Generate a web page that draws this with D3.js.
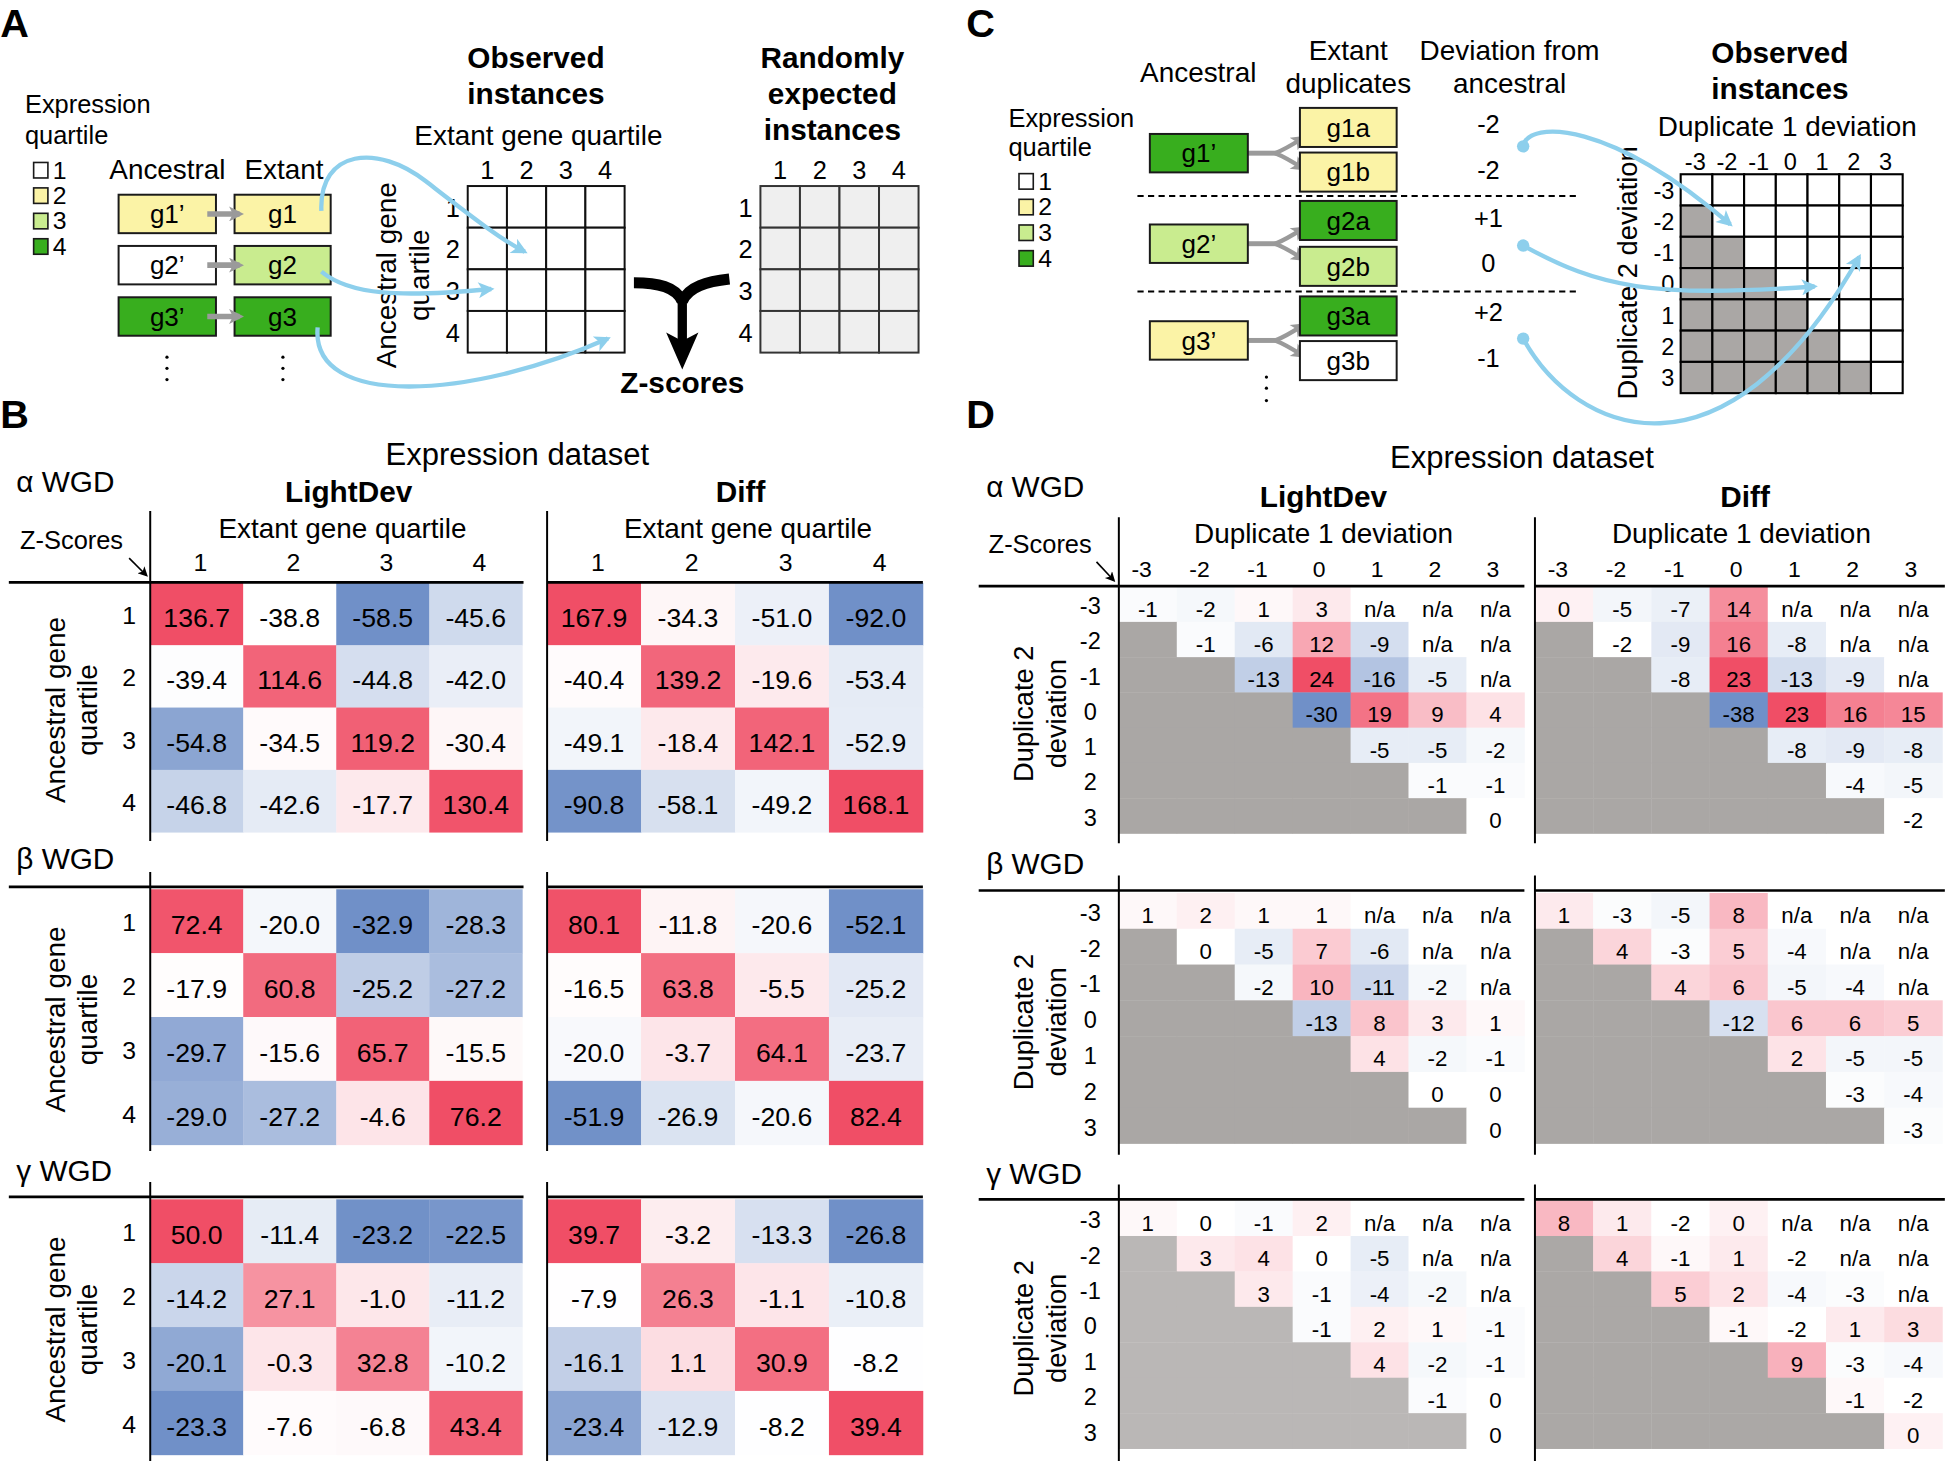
<!DOCTYPE html>
<html><head><meta charset="utf-8">
<script src="https://cdn.jsdelivr.net/npm/d3@7"></script>
<style>
html,body{margin:0;padding:0;background:#fff;}
svg{display:block;}
text{font-family:"Liberation Sans",Arial,Helvetica,sans-serif;fill:#000;}
</style></head><body>
<svg id="fig" width="1945" height="1461" viewBox="0 0 1568 1178"></svg>
<script>
// ================= DATA =================
const quartiles = [1, 2, 3, 4];
const deviations = [-3, -2, -1, 0, 1, 2, 3];
const wgdLabels = ["α WGD", "β WGD", "γ WGD"];
const datasetLabels = ["LightDev", "Diff"];

// Panel A
const ancestralGenesA = ["g1’", "g2’", "g3’"];
const extantGenesA = ["g1", "g2", "g3"];
const ancestralQuartileA = [2, 1, 4];
const extantQuartileA = [2, 3, 4];

// Panel C
const ancestralGenesC = ["g1’", "g2’", "g3’"];
const ancestralQuartileC = [4, 3, 2];
const duplicateGenesC = ["g1a", "g1b", "g2a", "g2b", "g3a", "g3b"];
const duplicateQuartileC = [2, 2, 4, 3, 4, 1];
const deviationLabelsC = ["-2", "-2", "+1", "0", "+2", "-1"];

// Panel B: Z-scores (rows = ancestral quartile 1..4, cols = extant quartile 1..4)
const zAlphaLightDev = [[136.7, -38.8, -58.5, -45.6], [-39.4, 114.6, -44.8, -42.0], [-54.8, -34.5, 119.2, -30.4], [-46.8, -42.6, -17.7, 130.4]];
const zAlphaDiff = [[167.9, -34.3, -51.0, -92.0], [-40.4, 139.2, -19.6, -53.4], [-49.1, -18.4, 142.1, -52.9], [-90.8, -58.1, -49.2, 168.1]];
const zBetaLightDev = [[72.4, -20.0, -32.9, -28.3], [-17.9, 60.8, -25.2, -27.2], [-29.7, -15.6, 65.7, -15.5], [-29.0, -27.2, -4.6, 76.2]];
const zBetaDiff = [[80.1, -11.8, -20.6, -52.1], [-16.5, 63.8, -5.5, -25.2], [-20.0, -3.7, 64.1, -23.7], [-51.9, -26.9, -20.6, 82.4]];
const zGammaLightDev = [[50.0, -11.4, -23.2, -22.5], [-14.2, 27.1, -1.0, -11.2], [-20.1, -0.3, 32.8, -10.2], [-23.3, -7.6, -6.8, 43.4]];
const zGammaDiff = [[39.7, -3.2, -13.3, -26.8], [-7.9, 26.3, -1.1, -10.8], [-16.1, 1.1, 30.9, -8.2], [-23.4, -12.9, -8.2, 39.4]];

// Panel D: rows = duplicate 2 deviation -3..3, cols = duplicate 1 deviation -3..3 (G = not possible, NA = n/a)
const G = null, NA = "n/a";
const dAlphaLightDev = [
  [-1, -2, 1, 3, NA, NA, NA],
  [G, -1, -6, 12, -9, NA, NA],
  [G, G, -13, 24, -16, -5, NA],
  [G, G, G, -30, 19, 9, 4],
  [G, G, G, G, -5, -5, -2],
  [G, G, G, G, G, -1, -1],
  [G, G, G, G, G, G, 0]];
const dAlphaDiff = [
  [0, -5, -7, 14, NA, NA, NA],
  [G, -2, -9, 16, -8, NA, NA],
  [G, G, -8, 23, -13, -9, NA],
  [G, G, G, -38, 23, 16, 15],
  [G, G, G, G, -8, -9, -8],
  [G, G, G, G, G, -4, -5],
  [G, G, G, G, G, G, -2]];
const dBetaLightDev = [
  [1, 2, 1, 1, NA, NA, NA],
  [G, 0, -5, 7, -6, NA, NA],
  [G, G, -2, 10, -11, -2, NA],
  [G, G, G, -13, 8, 3, 1],
  [G, G, G, G, 4, -2, -1],
  [G, G, G, G, G, 0, 0],
  [G, G, G, G, G, G, 0]];
const dBetaDiff = [
  [1, -3, -5, 8, NA, NA, NA],
  [G, 4, -3, 5, -4, NA, NA],
  [G, G, 4, 6, -5, -4, NA],
  [G, G, G, -12, 6, 6, 5],
  [G, G, G, G, 2, -5, -5],
  [G, G, G, G, G, -3, -4],
  [G, G, G, G, G, G, -3]];
const dGammaLightDev = [
  [1, 0, -1, 2, NA, NA, NA],
  [G, 3, 4, 0, -5, NA, NA],
  [G, G, 3, -1, -4, -2, NA],
  [G, G, G, -1, 2, 1, -1],
  [G, G, G, G, 4, -2, -1],
  [G, G, G, G, G, -1, 0],
  [G, G, G, G, G, G, 0]];
const dGammaDiff = [
  [8, 1, -2, 0, NA, NA, NA],
  [G, 4, -1, 1, -2, NA, NA],
  [G, G, 5, 2, -4, -3, NA],
  [G, G, G, -1, -2, 1, 3],
  [G, G, G, G, 9, -3, -4],
  [G, G, G, G, G, -1, -2],
  [G, G, G, G, G, G, 0]];

// ================= STYLE / LAYOUT =================
const RED = "#f04e66", BLUE = "#7090c8", WHITE = "#ffffff";
const qColor = {1: "#ffffff", 2: "#fbf3a6", 3: "#c9ec8f", 4: "#38ae1e"};
const ARROW_BLUE = "#8dcfec";
const GRAY_ARROW = "#9a9a9a";

const svg = d3.select("#fig");
const defs = svg.append("defs");
function marker(id, color, w, h, refX) {
  defs.append("marker").attr("id", id).attr("viewBox", "0 0 10 10")
    .attr("refX", refX).attr("refY", 5).attr("markerUnits", "userSpaceOnUse")
    .attr("markerWidth", w).attr("markerHeight", h).attr("orient", "auto")
    .append("path").attr("d", "M0,0 L10,5 L0,10 L2.5,5 Z").attr("fill", color);
}
marker("mBlue", ARROW_BLUE, 17, 13, 8);
marker("mGray", GRAY_ARROW, 14, 12, 7);
marker("mBlack", "#000", 9, 8, 8);

function T(g, x, y, s, o = {}) {
  const t = g.append("text").attr("x", x).attr("y", y).text(s)
    .attr("font-size", o.size || 22)
    .attr("text-anchor", o.anchor || "start");
  if (o.bold) t.attr("font-weight", "bold");
  if (o.rot) t.attr("transform", `rotate(${o.rot},${x},${y})`);
  return t;
}
function box(g, x, y, w, h, fill, label) {
  g.append("rect").attr("x", x).attr("y", y).attr("width", w).attr("height", h)
    .attr("fill", fill).attr("stroke", "#1a1a1a").attr("stroke-width", 1.6);
  T(g, x + w / 2, y + h / 2 + 7.5, label, {size: 21, anchor: "middle"});
}
function divScale(vals) {
  return d3.scaleLinear()
    .domain([d3.min(vals), d3.median(vals), d3.max(vals)])
    .range([BLUE, WHITE, RED]).interpolate(d3.interpolateRgb).clamp(true);
}
function line(g, x1, y1, x2, y2, w, color) {
  return g.append("line").attr("x1", x1).attr("y1", y1).attr("x2", x2).attr("y2", y2)
    .attr("stroke", color || "#000").attr("stroke-width", w || 1.5);
}
function legend(g, x, y0, dy, size) {
  quartiles.forEach((q, i) => {
    const y = y0 + i * dy;
    g.append("rect").attr("x", x).attr("y", y).attr("width", size).attr("height", size + 1)
      .attr("fill", qColor[q]).attr("stroke", "#1a1a1a").attr("stroke-width", 1.3);
    T(g, x + size + 4, y + size + 1.5, String(q), {size: 20});
  });
}

// ================= PANEL LETTERS =================
const root = svg.append("g");
T(root, 0, 30, "A", {size: 32, bold: true});
T(root, 779, 30, "C", {size: 32, bold: true});
T(root, 0, 345, "B", {size: 32, bold: true});
T(root, 779, 345, "D", {size: 32, bold: true});

// ================= PANEL A =================
(function () {
  const g = svg.append("g");
  T(g, 20, 91, "Expression", {size: 20.5});
  T(g, 20, 116, "quartile", {size: 20.5});
  legend(g, 27, 131, 20.5, 11.5);
  T(g, 88, 144, "Ancestral", {size: 22.5});
  T(g, 197, 144, "Extant", {size: 22.5});
  const rowY = [157, 198.3, 239.7];
  ancestralGenesA.forEach((name, i) => {
    box(g, 95.5, rowY[i], 78.5, 31, qColor[ancestralQuartileA[i]], name);
    box(g, 189, rowY[i], 77.5, 31, qColor[extantQuartileA[i]], extantGenesA[i]);
    g.append("path").attr("d", `M167,${rowY[i] + 15.5} L193,${rowY[i] + 15.5}`)
      .attr("stroke", GRAY_ARROW).attr("stroke-width", 4.5).attr("marker-end", "url(#mGray)");
  });
  [134.5, 228].forEach(x => [288, 297, 306].forEach(y =>
    g.append("circle").attr("cx", x).attr("cy", y).attr("r", 1.3).attr("fill", "#000")));

  // Observed grid
  T(g, 432, 55, "Observed", {size: 24, bold: true, anchor: "middle"});
  T(g, 432, 84, "instances", {size: 24, bold: true, anchor: "middle"});
  T(g, 434, 117, "Extant gene quartile", {size: 22.5, anchor: "middle"});
  const ox = d3.scaleBand().domain(quartiles).range([377, 503.5]);
  const oy = d3.scaleBand().domain(quartiles).range([150, 284.3]);
  const cells = d3.cross(quartiles, quartiles);
  g.selectAll(null).data(cells).join("rect")
    .attr("x", d => ox(d[1])).attr("y", d => oy(d[0]))
    .attr("width", ox.bandwidth()).attr("height", oy.bandwidth())
    .attr("fill", "#fff").attr("stroke", "#111").attr("stroke-width", 1.6);
  g.selectAll(null).data(quartiles).join("text")
    .attr("x", d => ox(d) + ox.bandwidth() / 2).attr("y", 144).attr("text-anchor", "middle")
    .attr("font-size", 20.5).text(d => d);
  g.selectAll(null).data(quartiles).join("text")
    .attr("x", 365).attr("y", d => oy(d) + oy.bandwidth() / 2 + 8).attr("text-anchor", "middle")
    .attr("font-size", 20.5).text(d => d);
  T(g, 319, 222, "Ancestral gene", {size: 22.5, anchor: "middle", rot: -90});
  T(g, 346, 222, "quartile", {size: 22.5, anchor: "middle", rot: -90});

  // Random grid
  T(g, 671, 55, "Randomly", {size: 24, bold: true, anchor: "middle"});
  T(g, 671, 84, "expected", {size: 24, bold: true, anchor: "middle"});
  T(g, 671, 113, "instances", {size: 24, bold: true, anchor: "middle"});
  const rx = d3.scaleBand().domain(quartiles).range([613, 740.5]);
  g.selectAll(null).data(cells).join("rect")
    .attr("x", d => rx(d[1])).attr("y", d => oy(d[0]))
    .attr("width", rx.bandwidth()).attr("height", oy.bandwidth())
    .attr("fill", "#efefef").attr("stroke", "#333").attr("stroke-width", 1.6);
  g.selectAll(null).data(quartiles).join("text")
    .attr("x", d => rx(d) + rx.bandwidth() / 2).attr("y", 144).attr("text-anchor", "middle")
    .attr("font-size", 20.5).text(d => d);
  g.selectAll(null).data(quartiles).join("text")
    .attr("x", 601).attr("y", d => oy(d) + oy.bandwidth() / 2 + 8).attr("text-anchor", "middle")
    .attr("font-size", 20.5).text(d => d);

  // Y-shaped merge arrow
  g.append("path").attr("d", "M511,228 C530,228 545,231 550,243").attr("fill", "none")
    .attr("stroke", "#000").attr("stroke-width", 9);
  g.append("path").attr("d", "M588,225 C570,227 555,231 550,243").attr("fill", "none")
    .attr("stroke", "#000").attr("stroke-width", 9);
  g.append("path").attr("d", "M550,238 L550,275").attr("stroke", "#000").attr("stroke-width", 7.5);
  g.append("path").attr("d", "M537,268 L550,275 L563,268 L550,298 Z").attr("fill", "#000");
  T(g, 550, 317, "Z-scores", {size: 24, bold: true, anchor: "middle"});

  // Blue arrows
  const curves = [
    "M259,170 C257,120 305,116 343,146 C378,173 402,192 423,203",
    "M259,219 C282,238 322,240 396,233",
    "M256,264 C250,330 380,322 490,273"];
  curves.forEach(d => g.append("path").attr("d", d).attr("fill", "none")
    .attr("stroke", ARROW_BLUE).attr("stroke-width", 3.5).attr("marker-end", "url(#mBlue)"));
})();

// ================= PANEL C =================
(function () {
  const g = svg.append("g");
  T(g, 813, 102, "Expression", {size: 20.5});
  T(g, 813, 126, "quartile", {size: 20.5});
  legend(g, 821.5, 140, 20.7, 11.5);
  T(g, 966, 66, "Ancestral", {size: 22.5, anchor: "middle"});
  T(g, 1087, 48, "Extant", {size: 22.5, anchor: "middle"});
  T(g, 1087, 75, "duplicates", {size: 22.5, anchor: "middle"});
  T(g, 1217, 48, "Deviation from", {size: 22.5, anchor: "middle"});
  T(g, 1217, 75, "ancestral", {size: 22.5, anchor: "middle"});

  const ancY = [108, 181, 259];
  const dupY = [87, 123, 162, 199, 239, 275];
  const devY = [107, 144, 183, 219, 259, 296];
  ancestralGenesC.forEach((name, i) => {
    const cy = ancY[i] + 15.5;
    g.append("path").attr("d", `M1006,${cy} L1030,${cy}`).attr("stroke", GRAY_ARROW).attr("stroke-width", 4);
    g.append("path").attr("d", `M1028,${cy} Q1036,${cy - 3} 1050,${cy - 12}`).attr("fill", "none")
      .attr("stroke", GRAY_ARROW).attr("stroke-width", 3.5).attr("marker-end", "url(#mGray)");
    g.append("path").attr("d", `M1028,${cy} Q1036,${cy + 3} 1050,${cy + 12}`).attr("fill", "none")
      .attr("stroke", GRAY_ARROW).attr("stroke-width", 3.5).attr("marker-end", "url(#mGray)");
    box(g, 927, ancY[i], 79, 31, qColor[ancestralQuartileC[i]], name);
  });
  duplicateGenesC.forEach((name, i) => {
    box(g, 1048, dupY[i], 78, 31.5, qColor[duplicateQuartileC[i]], name);
    T(g, 1200, devY[i], deviationLabelsC[i], {size: 20.5, anchor: "middle"});
  });
  [158, 235].forEach(y => line(g, 917, y, 1273, y, 1.5).attr("stroke-dasharray", "5,3.5"));
  [304, 313, 323].forEach(y => g.append("circle").attr("cx", 1021).attr("cy", y).attr("r", 1.3).attr("fill", "#000"));

  T(g, 1435, 51, "Observed", {size: 24, bold: true, anchor: "middle"});
  T(g, 1435, 80, "instances", {size: 24, bold: true, anchor: "middle"});
  T(g, 1441, 110, "Duplicate 1 deviation", {size: 22.5, anchor: "middle"});
  const cx = d3.scaleBand().domain(deviations).range([1355, 1534]);
  const cy = d3.scaleBand().domain(deviations).range([140.5, 317]);
  const cells = d3.cross(deviations, deviations); // [row, col]
  g.selectAll(null).data(cells).join("rect")
    .attr("x", d => cx(d[1])).attr("y", d => cy(d[0]))
    .attr("width", cx.bandwidth()).attr("height", cy.bandwidth())
    .attr("fill", d => d[1] < d[0] ? "#aaa7a5" : "#fff")
    .attr("stroke", "#000").attr("stroke-width", 1.7);
  g.selectAll(null).data(deviations).join("text")
    .attr("x", d => cx(d) + cx.bandwidth() / 2 - 1).attr("y", 137).attr("text-anchor", "middle")
    .attr("font-size", 19).text(d => d);
  g.selectAll(null).data(deviations).join("text")
    .attr("x", 1350).attr("y", d => cy(d) + cy.bandwidth() / 2 + 7).attr("text-anchor", "end")
    .attr("font-size", 19).text(d => d);
  T(g, 1320, 220, "Duplicate 2 deviation", {size: 22, anchor: "middle", rot: -90});

  const curves = [
    [1228, 118, "M1228,118 C1232,96 1300,98 1395,181"],
    [1228, 198, "M1228,198 C1290,232 1330,240 1463,231"],
    [1228, 273, "M1228,273 C1270,350 1390,400 1499,207"]];
  curves.forEach(([x, y, d]) => {
    g.append("path").attr("d", d).attr("fill", "none").attr("stroke", ARROW_BLUE)
      .attr("stroke-width", 3.5).attr("marker-end", "url(#mBlue)");
    g.append("circle").attr("cx", x).attr("cy", y).attr("r", 5).attr("fill", ARROW_BLUE);
  });
})();

// ================= PANEL B =================
(function () {
  const g = svg.append("g");
  const tables = [[zAlphaLightDev, zAlphaDiff], [zBetaLightDev, zBetaDiff], [zGammaLightDev, zGammaDiff]];
  const colRanges = [[121, 421], [441, 744]];
  const rowRanges = [[470, 671], [717, 923], [967, 1173]];
  const hLineY = [469.5, 715, 965];
  const vLines = [[412, 678], [703, 928], [953, 1178]];
  const wgdY = [397, 701, 952];
  const headX = [281, 597], subX = [276, 603];

  T(g, 417, 375, "Expression dataset", {size: 25, anchor: "middle"});
  datasetLabels.forEach((ds, j) => {
    T(g, headX[j], 405, ds, {size: 24, bold: true, anchor: "middle"});
    T(g, subX[j], 434, "Extant gene quartile", {size: 22.5, anchor: "middle"});
    const xs = d3.scaleBand().domain(quartiles).range(colRanges[j]);
    g.selectAll(null).data(quartiles).join("text")
      .attr("x", d => xs(d) + xs.bandwidth() / 2 + 3).attr("y", 460).attr("text-anchor", "middle")
      .attr("font-size", 20).text(d => d);
  });
  T(g, 16, 443, "Z-Scores", {size: 20.5});
  g.append("path").attr("d", "M104,450 L118,464").attr("stroke", "#000").attr("stroke-width", 1.3)
    .attr("marker-end", "url(#mBlack)");

  wgdLabels.forEach((w, i) => {
    T(g, 13, wgdY[i], w, {size: 24});
    const ys = d3.scaleBand().domain(quartiles).range(rowRanges[i]);
    datasetLabels.forEach((ds, j) => {
      const xs = d3.scaleBand().domain(quartiles).range(colRanges[j]);
      const data = tables[i][j];
      const color = divScale(data.flat());
      const cells = d3.cross(quartiles, quartiles).map(([r, c]) => ({r, c, v: data[r - 1][c - 1]}));
      g.selectAll(null).data(cells).join("rect")
        .attr("x", d => xs(d.c)).attr("y", d => ys(d.r))
        .attr("width", xs.bandwidth() + 0.3).attr("height", ys.bandwidth() + 0.3)
        .attr("fill", d => color(d.v));
      g.selectAll(null).data(cells).join("text")
        .attr("x", d => xs(d.c) + xs.bandwidth() / 2).attr("y", d => ys(d.r) + ys.bandwidth() / 2 + 10.5)
        .attr("text-anchor", "middle").attr("font-size", 21.5).text(d => d.v.toFixed(1));
    });
    line(g, 7, hLineY[i], 422, hLineY[i], 2.2);
    line(g, 441, hLineY[i], 744, hLineY[i], 2.2);
    line(g, 121, vLines[i][0], 121, vLines[i][1], 1.6);
    line(g, 441, vLines[i][0], 441, vLines[i][1], 1.6);
    g.selectAll(null).data(quartiles).join("text")
      .attr("x", 104).attr("y", d => ys(d) + ys.bandwidth() / 2 + 8).attr("text-anchor", "middle")
      .attr("font-size", 20).text(d => d);
    const mid = (rowRanges[i][0] + rowRanges[i][1]) / 2 + 2;
    T(g, 52, mid, "Ancestral gene", {size: 22.5, anchor: "middle", rot: -90});
    T(g, 78, mid, "quartile", {size: 22.5, anchor: "middle", rot: -90});
  });
})();

// ================= PANEL D =================
(function () {
  const g = svg.append("g");
  const tables = [[dAlphaLightDev, dAlphaDiff], [dBetaLightDev, dBetaDiff], [dGammaLightDev, dGammaDiff]];
  const colRanges = [[902, 1229], [1237.5, 1566]];
  const rowRanges = [[473, 672], [720, 922], [968, 1168]];
  const hLines = [[789, 1229], [1237.5, 1568]];
  const hLineY = [472.5, 718, 967];
  const vLines = [[417, 680], [706, 931], [955, 1178]];
  const wgdY = [401, 705, 955];
  const headX = [1067, 1407], subX = [1067, 1404];
  const grayFill = [["#aaa7a5", "#aaa7a5"], ["#aaa7a5", "#aaa7a5"], ["#bab7b6", "#aba8a6"]];

  const scales = datasetLabels.map((_, j) =>
    divScale(tables.flatMap(t => t[j].flat().filter(v => typeof v === "number"))));

  T(g, 1227, 377, "Expression dataset", {size: 25, anchor: "middle"});
  datasetLabels.forEach((ds, j) => {
    T(g, headX[j], 409, ds, {size: 24, bold: true, anchor: "middle"});
    T(g, subX[j], 438, "Duplicate 1 deviation", {size: 22.5, anchor: "middle"});
    const xs = d3.scaleBand().domain(deviations).range(colRanges[j]);
    g.selectAll(null).data(deviations).join("text")
      .attr("x", d => xs(d) + xs.bandwidth() / 2 - (d < 0 ? 5 : 2)).attr("y", 465).attr("text-anchor", "middle")
      .attr("font-size", 18.5).text(d => d);
  });
  T(g, 797, 446, "Z-Scores", {size: 20.5});
  g.append("path").attr("d", "M884,453 L898,468").attr("stroke", "#000").attr("stroke-width", 1.3)
    .attr("marker-end", "url(#mBlack)");

  wgdLabels.forEach((w, i) => {
    T(g, 795, wgdY[i], w, {size: 24});
    const ys = d3.scaleBand().domain(deviations).range(rowRanges[i]);
    datasetLabels.forEach((ds, j) => {
      const xs = d3.scaleBand().domain(deviations).range(colRanges[j]);
      const data = tables[i][j];
      const color = scales[j];
      const cells = d3.cross(d3.range(7), d3.range(7)).map(([r, c]) => ({r, c, v: data[r][c]}));
      g.selectAll(null).data(cells).join("rect")
        .attr("x", d => xs(deviations[d.c])).attr("y", d => ys(deviations[d.r]))
        .attr("width", xs.bandwidth() + 0.3).attr("height", ys.bandwidth() + 0.3)
        .attr("fill", d => d.v === null ? grayFill[i][j] : (d.v === NA ? WHITE : color(d.v)));
      g.selectAll(null).data(cells.filter(d => d.v !== null)).join("text")
        .attr("x", d => xs(deviations[d.c]) + xs.bandwidth() / 2)
        .attr("y", d => ys(deviations[d.r]) + ys.bandwidth() / 2 + 10)
        .attr("text-anchor", "middle").attr("font-size", 18).text(d => String(d.v));
    });
    line(g, hLines[0][0], hLineY[i], hLines[0][1], hLineY[i], 2.2);
    line(g, hLines[1][0], hLineY[i], hLines[1][1], hLineY[i], 2.2);
    line(g, 902, vLines[i][0], 902, vLines[i][1], 1.6);
    line(g, 1237.5, vLines[i][0], 1237.5, vLines[i][1], 1.6);
    g.selectAll(null).data(deviations).join("text")
      .attr("x", 879).attr("y", d => ys(d) + ys.bandwidth() / 2 + 8).attr("text-anchor", "middle")
      .attr("font-size", 19).text(d => d);
    const mid = (rowRanges[i][0] + rowRanges[i][1]) / 2 + 3;
    T(g, 833, mid, "Duplicate 2", {size: 22, anchor: "middle", rot: -90});
    T(g, 859, mid, "deviation", {size: 22, anchor: "middle", rot: -90});
  });
})();
</script>
</body></html>
